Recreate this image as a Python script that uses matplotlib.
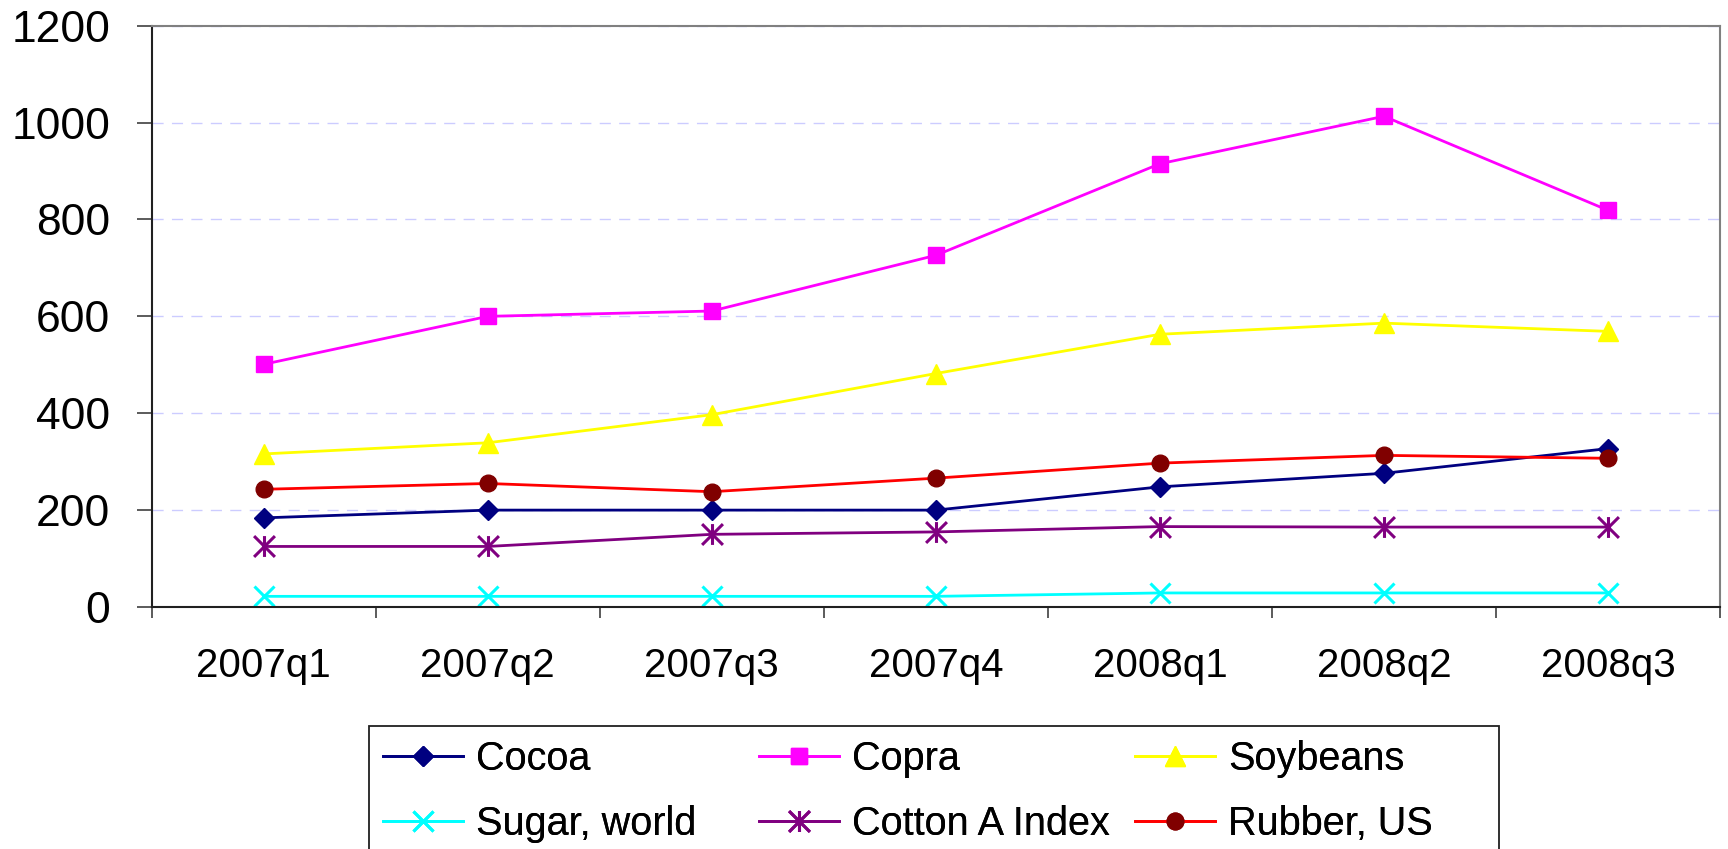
import matplotlib
matplotlib.use("Agg")
import matplotlib.pyplot as plt
from matplotlib.path import Path
from matplotlib.patches import Rectangle

plt.rcParams["font.family"] = ["Liberation Sans", "DejaVu Sans"]

OUTPUT_PATH = "out.png"

quarters = ["2007q1", "2007q2", "2007q3", "2007q4", "2008q1", "2008q2", "2008q3"]

cocoa = [184, 200, 200, 200, 248, 276, 327]
copra = [501, 600, 611, 726, 915, 1013, 819]
soybeans = [316, 339, 397, 482, 563, 586, 569]
sugar_world = [22, 22, 22, 22, 29, 29, 29]
cotton_a_index = [125, 125, 150, 155, 166, 165, 165]
rubber_us = [243, 255, 238, 266, 297, 313, 307]

y_ticks = [0, 200, 400, 600, 800, 1000, 1200]

# asterisk: vertical bar plus an X
asterisk = Path(
    [(0, -1), (0, 1), (-1, -1), (1, 1), (-1, 1), (1, -1)],
    [Path.MOVETO, Path.LINETO, Path.MOVETO, Path.LINETO, Path.MOVETO, Path.LINETO],
)


def main():
    fig = plt.figure(figsize=(17.28, 8.49), dpi=100)
    W, H = 1728, 849
    ax = fig.add_axes([151.7 / W, 1 - 607 / H, (1720 - 151.7) / W, (607 - 25.7) / H])

    x = list(range(len(quarters)))
    lw = 2.0

    series = [
        ("Cocoa", cocoa, dict(color="#000080", marker="D", ms=10, mfc="#000080", mec="#000080")),
        ("Copra", copra, dict(color="#FF00FF", marker="s", ms=11, mfc="#FF00FF", mec="#FF00FF")),
        ("Soybeans", soybeans, dict(color="#FFFF00", marker="^", ms=14, mfc="#FFFF00", mec="#FFFF00")),
        ("Sugar, world", sugar_world, dict(color="#00FFFF", marker="x", ms=14, mew=2.2, mec="#00FFFF")),
        ("Cotton A Index", cotton_a_index, dict(color="#800080", marker=asterisk, ms=15, mew=2.2, mec="#800080")),
        ("Rubber, US", rubber_us, dict(color="#FF0000", marker="o", ms=12, mfc="#800000", mec="#800000")),
    ]

    handles = []
    for name, values, style in series:
        (line,) = ax.plot(x, values, lw=lw, label=name, **style)
        handles.append(line)

    ax.set_xlim(-0.5, len(quarters) - 0.5)
    ax.set_ylim(0, 1200)
    ax.set_yticks(y_ticks)
    ax.set_xticks(x)
    ax.set_xticklabels(quarters)
    ax.set_xticks([i - 0.5 for i in range(len(quarters) + 1)], minor=True)

    ax.tick_params(axis="y", labelsize=32, length=10.8, width=1.2, pad=19, color="#404040")
    ax.tick_params(axis="x", which="major", labelsize=29, length=0, pad=29)
    ax.tick_params(axis="x", which="minor", length=8, width=1.2, color="#404040")

    ax.yaxis.grid(True, color="#ccccff", lw=1.0, linestyle=(0, (8, 6)))
    ax.set_axisbelow(True)

    for side in ["left", "bottom"]:
        ax.spines[side].set_color("#202020")
        ax.spines[side].set_linewidth(1.5)
    for side in ["top", "right"]:
        ax.spines[side].set_color("#808080")
        ax.spines[side].set_linewidth(1.5)

    # legend: three columns of two entries inside one box
    fig.patches.append(
        Rectangle((369 / W, -0.1), (1499 - 369) / W, 0.1 + (1 - 726 / H),
                  transform=fig.transFigure, fill=False, ec="#202020", lw=1.3)
    )
    col_x = [383, 759, 1135]
    for j, cx in enumerate(col_x):
        leg = fig.legend(
            handles=[handles[j], handles[j + 3]],
            loc="upper left",
            bbox_to_anchor=(cx / W, 1 - 740 / H),
            frameon=False,
            fontsize=28.5,
            borderpad=0,
            borderaxespad=0,
            handlelength=2.02,
            handletextpad=0.33,
            labelspacing=0.68,
        )
        fig.add_artist(leg)

    fig.savefig(OUTPUT_PATH, dpi=100)
    plt.close(fig)


if __name__ == "__main__":
    main()
